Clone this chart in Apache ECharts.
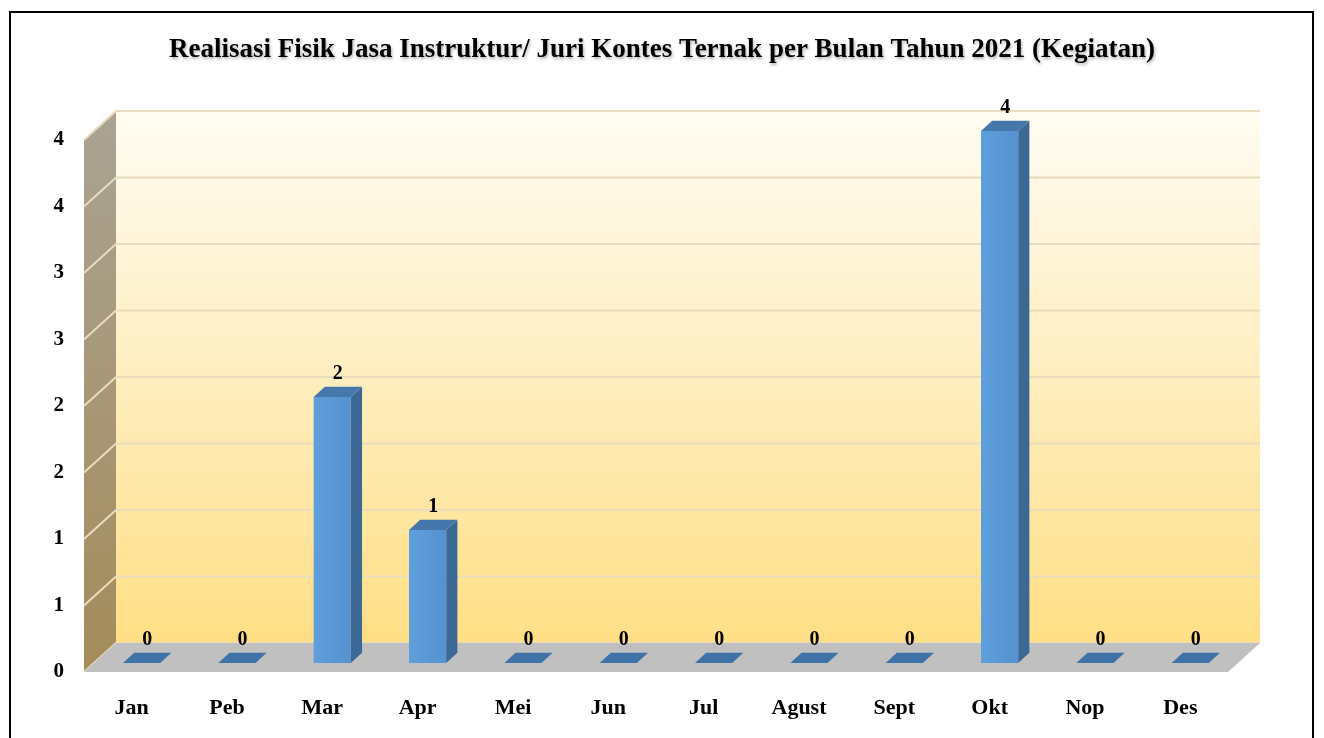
<!DOCTYPE html>
<html>
<head>
<meta charset="utf-8">
<title>Realisasi Fisik Jasa Instruktur/ Juri Kontes Ternak 2021</title>
<script src="https://cdn.jsdelivr.net/npm/echarts@6/dist/echarts.min.js"></script>
<style>
  html, body { margin: 0; padding: 0; background: #ffffff; }
  #chart { width: 1324px; height: 738px; }
</style>
</head>
<body>
<div id="chart"></div>
<script>
// Monthly data
const months = ['Jan', 'Peb', 'Mar', 'Apr', 'Mei', 'Jun', 'Jul', 'Agust', 'Sept', 'Okt', 'Nop', 'Des'];
const kegiatan = [0, 0, 2, 1, 0, 0, 0, 0, 0, 4, 0, 0];
const titleText = 'Realisasi Fisik Jasa Instruktur/ Juri Kontes Ternak per Bulan Tahun 2021 (Kegiatan)';

// Axis range (labels shown rounded to whole numbers)
const yMin = 0, yMax = 4, yStep = 0.5;

// 3D look: depth offset of the back wall relative to the front plane
const DX = 32, DY = -29;
const FONT = '"Liberation Serif", "Times New Roman", serif';

const chart = echarts.init(document.getElementById('chart'), null, { renderer: 'canvas' });

function wallsRender(params, api) {
  const cs = params.coordSys;
  const xL = cs.x, xR = cs.x + cs.width;
  const yBase = api.coord([0, yMin])[1];
  const yTop = api.coord([0, yMax])[1];
  const children = [];
  // side wall
  children.push({
    type: 'polygon',
    shape: { points: [[xL, yTop], [xL + DX, yTop + DY], [xL + DX, yBase + DY], [xL, yBase]] },
    style: {
      fill: new echarts.graphic.LinearGradient(0, 0, 0, 1, [
        { offset: 0, color: '#aaa394' },
        { offset: 1, color: '#a48c5a' }
      ])
    }
  });
  // back wall
  children.push({
    type: 'rect',
    shape: { x: xL + DX, y: yTop + DY, width: xR - xL, height: yBase - yTop },
    style: {
      fill: new echarts.graphic.LinearGradient(0, 0, 0, 1, [
        { offset: 0, color: '#fffcf2' },
        { offset: 0.45, color: '#feefc4' },
        { offset: 1, color: '#ffdf85' }
      ])
    }
  });
  // gridlines on back and side walls
  for (let v = yMin; v <= yMax + 1e-9; v += yStep) {
    const y = api.coord([0, v])[1];
    children.push({
      type: 'polyline',
      shape: { points: [[xL, y], [xL + DX, y + DY], [xR + DX, y + DY]] },
      style: { stroke: '#e9dcbd', lineWidth: 2, fill: null }
    });
  }
  // floor
  children.push({
    type: 'polygon',
    shape: { points: [[xL, yBase], [xL + DX, yBase + DY], [xR + DX, yBase + DY], [xR, yBase]] },
    style: { fill: '#c0c0c0' }
  });
  return { type: 'group', children: children };
}

function barRender(params, api) {
  const idx = api.value(0);
  const val = api.value(1);
  const p0 = api.coord([idx, 0]);
  const p1 = api.coord([idx, val]);
  const band = api.size([1, 0])[0];
  const w = band * 0.39;
  const f1 = 0.31, f2 = 0.66;
  const xl = p0[0] - w / 2 + DX * f1, xr = xl + w;
  const yb = p0[1] + DY * f1, yt = p1[1] + DY * f1;
  const ddx = DX * (f2 - f1), ddy = DY * (f2 - f1);
  const children = [];
  const h = yb - yt;
  if (h > 0.5) {
    children.push({
      type: 'polygon',
      shape: { points: [[xr, yt], [xr + ddx, yt + ddy], [xr + ddx, yb + ddy], [xr, yb]] },
      style: { fill: '#3b6894' }
    });
    children.push({
      type: 'rect',
      shape: { x: xl, y: yt, width: w, height: h },
      style: {
        fill: new echarts.graphic.LinearGradient(0, 0, 1, 0, [
          { offset: 0, color: '#5e9fdc' },
          { offset: 1, color: '#5592cf' }
        ])
      }
    });
  }
  children.push({
    type: 'polygon',
    shape: { points: [[xl, yt], [xr, yt], [xr + ddx, yt + ddy], [xl + ddx, yt + ddy]] },
    style: { fill: h > 0.5 ? '#4677aa' : '#3f72a6' }
  });
  children.push({
    type: 'text',
    style: {
      text: String(val),
      x: (xl + xr + ddx) / 2,
      y: yt + ddy - 3,
      textAlign: 'center',
      textVerticalAlign: 'bottom',
      fontFamily: FONT,
      fontWeight: 'bold',
      fontSize: 20,
      fill: '#000000'
    }
  });
  return { type: 'group', children: children };
}

const option = {
  backgroundColor: '#ffffff',
  animation: false,
  title: {
    text: titleText,
    left: 'center',
    top: 32,
    textStyle: {
      fontFamily: FONT,
      fontWeight: 'bold',
      fontSize: 27,
      color: '#000000',
      textShadowColor: 'rgba(0,0,0,0.3)',
      textShadowBlur: 3,
      textShadowOffsetX: 1,
      textShadowOffsetY: 2
    }
  },
  graphic: [{
    type: 'rect',
    shape: { x: 10, y: 12, width: 1303, height: 740 },
    style: { fill: null, stroke: '#000000', lineWidth: 2 },
    z: 100
  }],
  grid: { left: 84, right: 96, top: 140, bottom: 66 },
  xAxis: {
    type: 'category',
    data: months,
    axisLine: { show: false },
    axisTick: { show: false },
    axisLabel: {
      margin: 25,
      fontFamily: FONT,
      fontWeight: 'bold',
      fontSize: 22,
      color: '#000000'
    }
  },
  yAxis: {
    type: 'value',
    min: yMin,
    max: yMax,
    interval: yStep,
    axisLine: { show: false },
    axisTick: { show: false },
    splitLine: { show: false },
    axisLabel: {
      margin: 20,
      fontFamily: FONT,
      fontWeight: 'bold',
      fontSize: 21,
      color: '#000000',
      formatter: function (v) { return String(Math.round(v)); }
    }
  },
  series: [
    {
      name: 'walls',
      type: 'custom',
      renderItem: wallsRender,
      data: [[0, 0]],
      silent: true,
      z: 1
    },
    {
      name: 'Kegiatan',
      type: 'custom',
      renderItem: barRender,
      data: kegiatan.map(function (v, i) { return [i, v]; }),
      z: 2
    }
  ]
};

chart.setOption(option);
</script>
</body>
</html>
